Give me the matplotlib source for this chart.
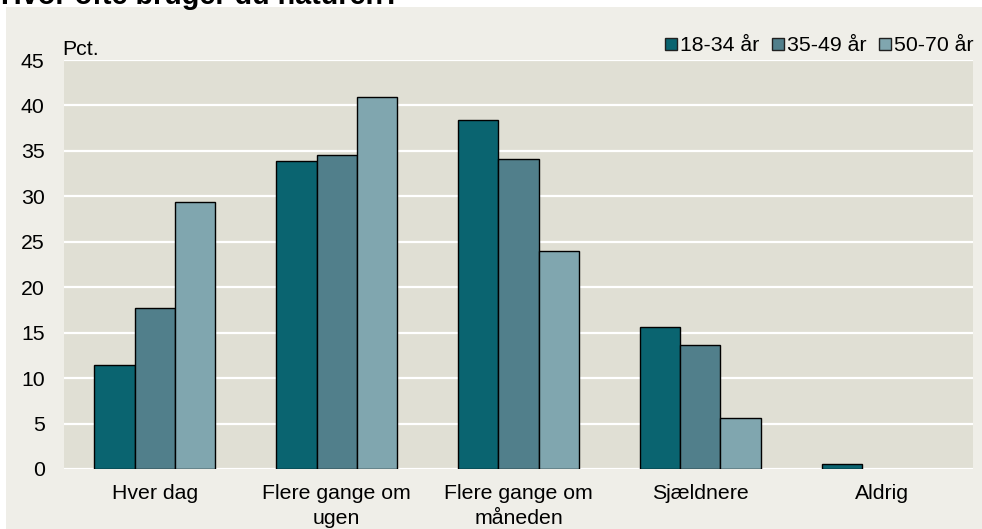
import numpy as np
import matplotlib
matplotlib.use("Agg")
import matplotlib.pyplot as plt
from matplotlib.lines import Line2D
from matplotlib.patches import Rectangle

plt.rcParams['font.family'] = ['Liberation Sans', 'DejaVu Sans']

categories = ["Hver dag", "Flere gange om\nugen", "Flere gange om\nmåneden", "Sjældnere", "Aldrig"]
groups = ["18-34 år", "35-49 år", "50-70 år"]
young = [11.4, 33.9, 38.4, 15.6, 0.6]
middle = [17.7, 34.5, 34.1, 13.6, 0.0]
old = [29.4, 40.9, 24.0, 5.6, 0.0]
colors = ["#0a6470", "#517f8b", "#80a6af"]

fs = 15.3

fig = plt.figure(figsize=(9.82, 5.29), dpi=100, facecolor="white")
# light panel behind the chart
fig.patches.append(Rectangle((6 / 982, 0), 1, 1 - 7 / 529, transform=fig.transFigure,
                             facecolor="#efeee8", edgecolor="none", zorder=-5))

ax = fig.add_axes([64 / 982, 1 - 469 / 529, 909 / 982, 409 / 529])
ax.set_facecolor("#e0dfd4")

x = np.arange(len(categories))
w = 0.222
for j, vals in enumerate([young, middle, old]):
    vals = np.array(vals)
    lw = np.where(vals > 0, 1.0, 0.0)
    ax.bar(x + (j - 1) * w, vals, width=w, color=colors[j], edgecolor="black",
           linewidth=lw, zorder=3)

ax.set_xlim(-0.5, 4.5)
ax.set_ylim(0, 45)
ax.set_yticks(range(0, 46, 5))
ax.set_xticks(x)
ax.set_xticklabels(categories, fontsize=fs, linespacing=1.4)
ax.tick_params(axis="y", length=0, pad=14, labelsize=fs)
ax.tick_params(axis="x", length=0, pad=11)
ax.grid(axis="y", color="white", linewidth=1.6, zorder=1)
ax.set_axisbelow(True)
for s in ax.spines.values():
    s.set_visible(False)

ax.text(-0.002, 1.002, "Pct.", transform=ax.transAxes, ha="left", va="bottom", fontsize=fs)

handles = [Line2D([], [], linestyle="none", marker="s", markersize=9,
                  markerfacecolor=c, markeredgecolor="#202020", markeredgewidth=1)
           for c in colors]
fig.legend(handles, groups, loc="center right", bbox_to_anchor=(974 / 982, 1 - 46 / 529),
           ncol=3, frameon=False, fontsize=fs, handlelength=0.6, handletextpad=0.15,
           columnspacing=0.55, borderpad=0, borderaxespad=0)

fig.text(1 / 982, 1 - 4 / 529, "Hvor ofte bruger du naturen?", ha="left", va="baseline",
         fontsize=20.7, fontweight="bold")

fig.savefig("out.png", dpi=100, facecolor="white")
